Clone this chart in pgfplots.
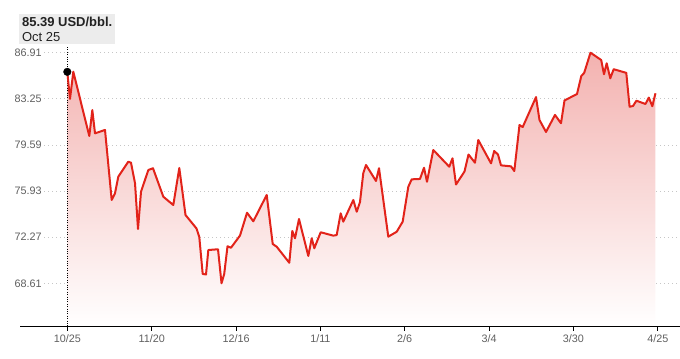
\documentclass[border=0pt]{standalone}
\usepackage{pgfplots}
\pgfplotsset{compat=1.18}
\usepackage{pgfplotstable}
\usepackage{fontspec}
\setmainfont{Liberation Sans}
\definecolor{linered}{RGB}{226,35,26}
\definecolor{fillred}{RGB}{243,178,176}
\definecolor{ticktext}{RGB}{95,95,95}
\definecolor{boxgray}{RGB}{236,236,236}
\pgfplotstableread{
x y
0 85.39
0.83 83.24
1.85 85.40
6.78 80.30
7.71 82.36
8.54 80.51
11.62 80.78
13.68 75.22
14.70 75.75
15.72 77.07
18.80 78.26
19.63 78.18
20.87 76.55
21.79 72.92
22.72 75.88
24.97 77.60
26.41 77.74
29.59 75.48
32.67 74.82
34.52 77.76
36.43 74.03
39.82 72.96
40.68 72.28
41.73 69.35
42.75 69.31
43.46 71.25
46.45 71.31
47.53 68.61
48.36 69.35
49.38 71.55
50.45 71.43
53.23 72.40
55.39 74.21
57.33 73.53
61.46 75.62
63.31 71.73
64.54 71.51
68.42 70.24
69.35 72.76
70.18 72.18
71.41 73.71
74.28 70.78
75.33 72.18
76.13 71.39
78.10 72.66
81.98 72.39
83.03 72.44
84.26 74.16
85.06 73.50
88.15 75.22
89.20 74.29
90.21 75.06
91.23 77.36
92.06 78.00
95.14 76.73
96.07 77.74
98.93 72.31
101.52 72.70
103.37 73.50
105.10 76.27
106.14 76.86
108.70 76.89
109.94 77.78
110.86 76.67
112.80 79.19
117.73 77.86
118.72 78.53
119.80 76.45
122.42 77.48
123.65 78.83
125.65 78.18
126.67 79.98
130.59 78.13
131.57 79.11
132.74 78.83
133.67 77.97
136.75 77.89
137.77 77.52
139.37 81.17
140.36 81.01
144.46 83.39
145.53 81.57
147.54 80.62
150.31 81.97
152.16 81.31
153.24 83.12
157.09 83.63
158.42 85.06
159.31 85.31
161.25 86.91
164.55 86.33
165.41 85.20
166.24 86.07
167.35 84.88
168.40 85.60
172.28 85.31
173.30 82.62
174.35 82.68
175.40 83.10
178.20 82.84
179.22 83.35
180.30 82.66
181.28 83.69
}\oil
\begin{document}
\begin{tikzpicture}
\path[use as bounding box] (0,0) rectangle (680bp,359bp);
\begin{axis}[
  at={(20bp,33bp)}, anchor=south west,
  scale only axis, width=660bp, height=286bp,
  xmin=-14.58, xmax=188.84, ymin=65.22, ymax=87.918,
  axis x line=bottom, axis y line=left,
  x axis line style={-, black, line width=0.9bp},
  y axis line style={draw=none},
  xtick={0,26,52,78,104,130,156,182},
  xticklabels={10/25,11/20,12/16,1/11,2/6,3/4,3/30,4/25},
  xtick style={black, line width=0.8bp},
  tick align=outside, major tick length=4.5bp,
  ytick={68.61,72.27,75.93,79.59,83.25,86.91},
  yticklabels={68.61,72.27,75.93,79.59,83.25,86.91},
  ytick style={draw=none},
  yticklabel style={anchor=west, xshift=-3bp, fill=white, inner xsep=2bp, inner ysep=1bp},
  ticklabel style={font=\fontsize{10.8bp}{12bp}\selectfont, text=ticktext},
  xticklabel style={yshift=-1bp},
  ymajorgrids,
  major grid style={gray!45, line width=0.8bp, dash pattern=on 1.2bp off 2.8bp},
  /pgf/number format/assume math mode=true,
]
\addplot[draw=none, top color=fillred, bottom color=white, shading=axis] table[x=x,y=y] {\oil} \closedcycle;
\draw[black, line width=0.9bp, dash pattern=on 1bp off 1.4bp] (axis cs:0,87.36) -- (axis cs:0,65.22);
\addplot[linered, line width=2bp, line join=round, mark=none] table[x=x,y=y] {\oil};
\addplot[only marks, mark=*, mark size=3.8bp, black] coordinates {(0,85.39)};
\end{axis}
\node[fill=boxgray, anchor=north west, inner xsep=2.5bp, inner ysep=3bp, align=left,
      font=\fontsize{13bp}{15bp}\selectfont, text={rgb,255:red,34;green,34;blue,34},
      minimum width=96bp] at (19bp,345.5bp)
  {\textbf{85.39 USD/bbl.}\\Oct 25};
\end{tikzpicture}
\end{document}
